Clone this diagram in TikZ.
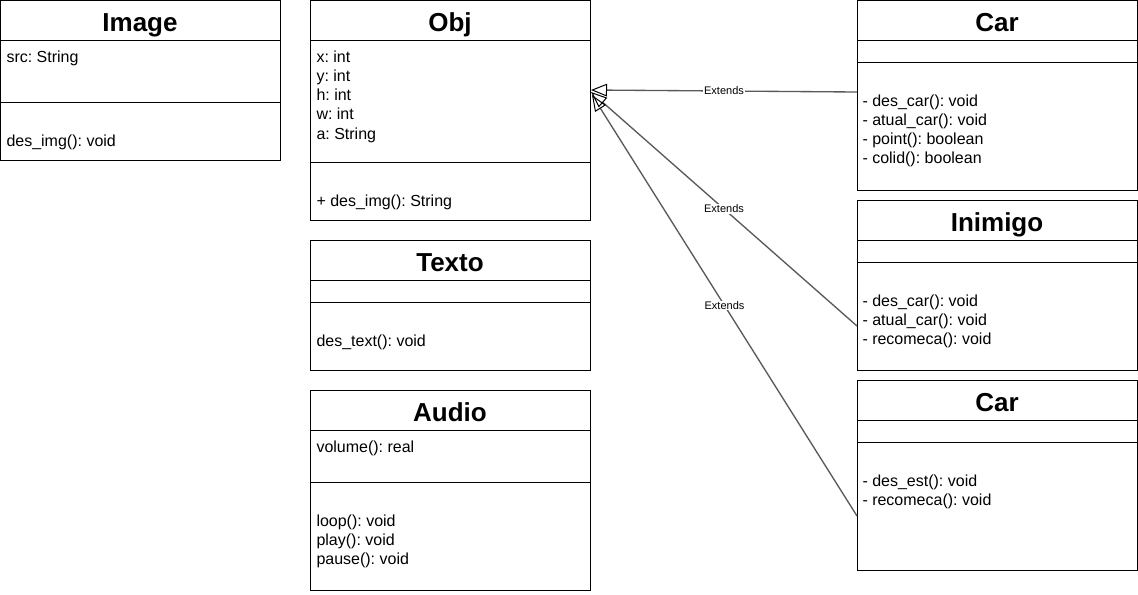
\documentclass[tikz,border=0pt]{standalone}
\usepackage{fontspec}
\setmainfont{Liberation Sans}
\usetikzlibrary{arrows.meta}
\frenchspacing
\begin{document}
\begin{tikzpicture}[x=0.75pt,y=-0.75pt, line width=0.75pt,
 box/.style={draw, anchor=north west, inner sep=0pt, minimum width=210pt},
 title/.style={anchor=base, font=\bfseries\fontsize{19.5}{21}\selectfont, inner sep=0pt},
 attr/.style={anchor=base west, inner sep=0pt, font=\fontsize{12}{14}\selectfont},
 ext/.style={draw=black!65, line width=1pt, -{Triangle[open, length=12pt, width=9.5pt, black, line width=0.75pt]}},
 lbl/.style={fill=white, inner sep=0.5pt, font=\fontsize{8.25}{9}\selectfont}]
\useasboundingbox (0,0) rectangle (1138,594);

% Image
\node[box, minimum height=120pt] (image) at (0,0) {};
\draw (0,40) -- (280,40);
\draw (0,102) -- (280,102);
\node[title] (imageT) at (140,31) {Image};
\node[attr] (imageA) at (6,62) {src: String};
\node[attr] (imageM) at (6,146) {des\_img(): void};

% Obj
\node[box, minimum height=165pt] (obj) at (310,0) {};
\draw (310,40) -- (590,40);
\draw (310,162) -- (590,162);
\node[title] (objT) at (450,31) {Obj};
\node[attr] (objA1) at (316,62.2) {x: int};
\node[attr] (objA2) at (316,81.4) {y: int};
\node[attr] (objA3) at (316,100.6) {h: int};
\node[attr] (objA4) at (316,119.8) {w: int};
\node[attr] (objA5) at (316,139) {a: String};
\node[attr] (objM1) at (316,206) {+ des\_img(): String};

% Texto
\node[box, minimum height=97.5pt] (texto) at (310,240) {};
\draw (310,280) -- (590,280);
\draw (310,302) -- (590,302);
\node[title] (textoT) at (450,271) {Texto};
\node[attr] (textoM) at (316,346) {des\_text(): void};

% Audio
\node[box, minimum height=150pt] (audio) at (310,390) {};
\draw (310,430) -- (590,430);
\draw (310,482) -- (590,482);
\node[title] (audioT) at (450,421) {Audio};
\node[attr] (audioA) at (316,452) {volume(): real};
\node[attr] (audioM1) at (316,526) {loop(): void};
\node[attr] (audioM2) at (316,545.2) {play(): void};
\node[attr] (audioM3) at (316,564.4) {pause(): void};

% Car (top)
\node[box, minimum height=142.5pt] (car) at (857,0) {};
\draw (857,40) -- (1137,40);
\draw (857,62) -- (1137,62);
\node[title] (carT) at (997,31) {Car};
\node[attr] (carM1) at (862,106) {- des\_car(): void};
\node[attr] (carM2) at (862,125.2) {- atual\_car(): void};
\node[attr] (carM3) at (862,144.4) {- point(): boolean};
\node[attr] (carM4) at (862,163.6) {- colid(): boolean};

% Inimigo
\node[box, minimum height=127.5pt] (inimigo) at (857,200) {};
\draw (857,240) -- (1137,240);
\draw (857,262) -- (1137,262);
\node[title] (inimigoT) at (997,231) {Inimigo};
\node[attr] (inimigoM1) at (862,306) {- des\_car(): void};
\node[attr] (inimigoM2) at (862,325.2) {- atual\_car(): void};
\node[attr] (inimigoM3) at (862,344.4) {- recomeca(): void};

% Car (bottom)
\node[box, minimum height=142.5pt] (car2) at (857,380) {};
\draw (857,420) -- (1137,420);
\draw (857,442) -- (1137,442);
\node[title] (car2T) at (997,411) {Car};
\node[attr] (car2M1) at (862,486) {- des\_est(): void};
\node[attr] (car2M2) at (862,505.2) {- recomeca(): void};

% connectors
\coordinate (s1) at (857,92);
\coordinate (s2) at (857,326);
\coordinate (s3) at (857,516);
\coordinate (t1) at (591,90);
\coordinate (t2) at (591,92);
\coordinate (t3) at (592,95);
\draw[ext] (s1) -- node[lbl] (e1) {Extends} (t1);
\draw[ext] (s2) -- node[lbl] (e2) {Extends} (t2);
\draw[ext] (s3) -- node[lbl] (e3) {Extends} (t3);
\end{tikzpicture}
\end{document}
